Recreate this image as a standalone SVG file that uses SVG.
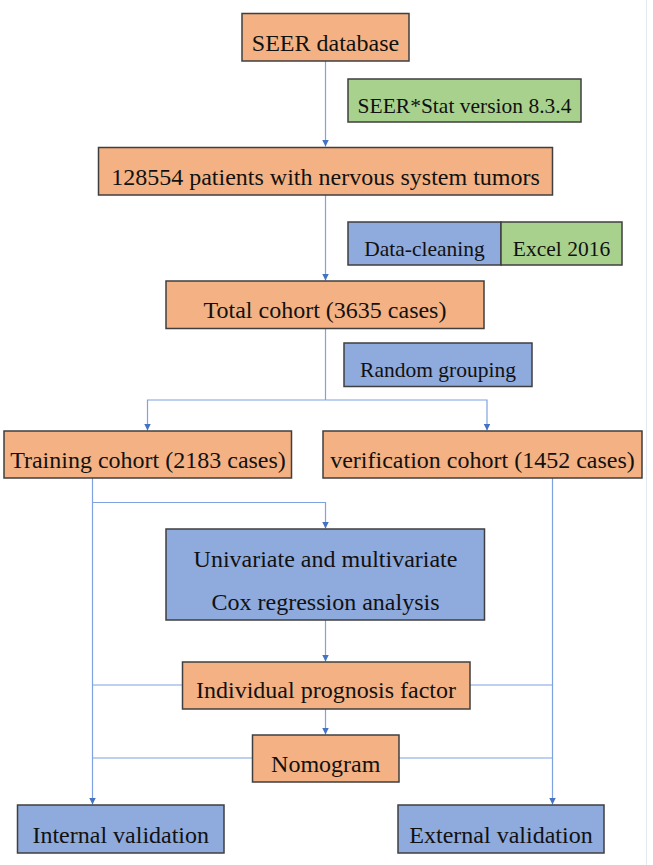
<svg xmlns="http://www.w3.org/2000/svg" width="653" height="865" viewBox="0 0 653 865">
<style>
.box{stroke:#3f3f3f;stroke-width:1.5}
.o{fill:#F4B183}
.g{fill:#A9D18E}
.b{fill:#8FAADC}
text{font-family:"Liberation Serif","Times New Roman",serif;font-size:24px;fill:#111;text-anchor:middle}
.s{font-size:21.5px}
.c{fill:none;stroke:#7FA2E2;stroke-width:1.2}
</style>
<defs>
<marker id="ah" viewBox="0 0 8 8" refX="8" refY="4" markerWidth="8" markerHeight="6.5" orient="auto" markerUnits="userSpaceOnUse">
<path d="M0,0 L8,4 L0,8 z" fill="#4472C4"/>
</marker>
</defs>
<rect width="653" height="865" fill="#ffffff"/>
<line x1="646.5" y1="0" x2="646.5" y2="865" stroke="#E4E9F1" stroke-width="1"/>
<g id="connectors">
<path class="c" d="M325.5,61 V146.5" marker-end="url(#ah)"/>
<path class="c" d="M325.5,195 V280.5" marker-end="url(#ah)"/>
<path class="c" d="M325.5,329 V400"/>
<path class="c" d="M325.5,400 H147.5 V430.5" marker-end="url(#ah)"/>
<path class="c" d="M325.5,400 H487 V430.5" marker-end="url(#ah)"/>
<path class="c" d="M92.5,478 V804.5" marker-end="url(#ah)"/>
<path class="c" d="M92.5,502.5 H325.5 V528.5" marker-end="url(#ah)"/>
<path class="c" d="M325.5,620 V661.5" marker-end="url(#ah)"/>
<path class="c" d="M182.5,685 H92.5"/>
<path class="c" d="M470,685 H552.5"/>
<path class="c" d="M325.5,709 V734.5" marker-end="url(#ah)"/>
<path class="c" d="M252.5,758 H92.5"/>
<path class="c" d="M399,758 H552.5"/>
<path class="c" d="M552.5,478 V804.5" marker-end="url(#ah)"/>
</g>
<g id="seer-database"><rect class="box o" x="242" y="13.5" width="167" height="47.5"/><text x="325.5" y="51">SEER database</text></g>
<g id="seer-stat"><rect class="box g" x="348" y="79" width="233" height="43"/><text class="s" x="464.5" y="113">SEER*Stat version 8.3.4</text></g>
<g id="patients"><rect class="box o" x="98.5" y="147.5" width="454" height="47.5"/><text x="325.5" y="185">128554 patients with nervous system tumors</text></g>
<g id="data-cleaning"><rect class="box b" x="348" y="222" width="153" height="43"/><text class="s" x="424.5" y="256">Data-cleaning</text></g>
<g id="excel"><rect class="box g" x="501" y="222" width="121" height="43"/><text class="s" x="561.5" y="256">Excel 2016</text></g>
<g id="total-cohort"><rect class="box o" x="166" y="281" width="318" height="47.5"/><text x="325" y="318">Total cohort (3635 cases)</text></g>
<g id="random-grouping"><rect class="box b" x="344" y="343" width="188" height="43.5"/><text class="s" x="438" y="377">Random grouping</text></g>
<g id="training"><rect class="box o" x="4" y="431" width="287.5" height="47"/><text x="148" y="468">Training cohort (2183 cases)</text></g>
<g id="verification"><rect class="box o" x="323" y="431" width="319" height="47"/><text x="482.5" y="468">verification cohort (1452 cases)</text></g>
<g id="cox"><rect class="box b" x="166" y="529" width="318.5" height="91"/><text x="325.5" y="566.5">Univariate and multivariate</text><text x="325.5" y="609.5">Cox regression analysis</text></g>
<g id="prognosis"><rect class="box o" x="182.5" y="662" width="287.5" height="47"/><text x="326" y="698">Individual prognosis factor</text></g>
<g id="nomogram"><rect class="box o" x="252.5" y="735" width="146.5" height="47"/><text x="325.75" y="771.5">Nomogram</text></g>
<g id="internal"><rect class="box b" x="17.5" y="805" width="206.5" height="48"/><text x="120.75" y="842.5">Internal validation</text></g>
<g id="external"><rect class="box b" x="398" y="805" width="206" height="48"/><text x="501" y="842.5">External validation</text></g>
</svg>
